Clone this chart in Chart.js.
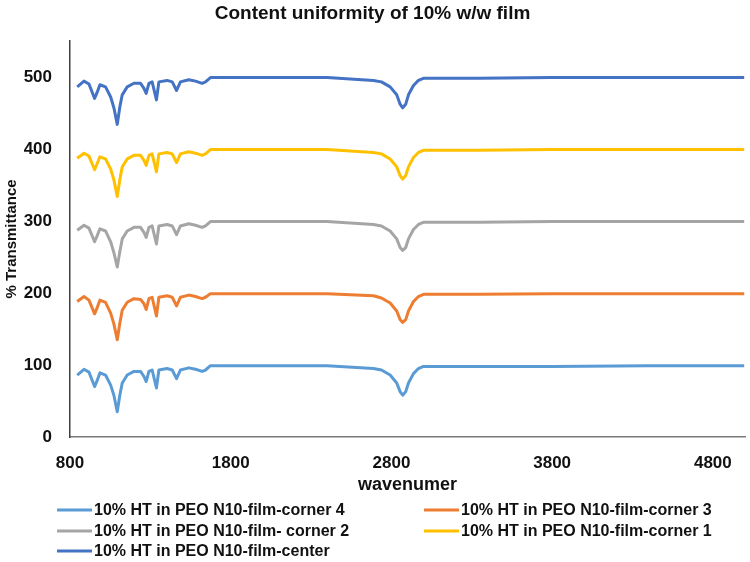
<!DOCTYPE html>
<html>
<head>
<meta charset="utf-8">
<title>Content uniformity of 10% w/w film</title>
<script src="https://cdn.jsdelivr.net/npm/chart.js@4.4.1/dist/chart.umd.min.js"></script>
<style>
    html, body { margin: 0; padding: 0; background: #ffffff; }
    #wrap { width: 750px; height: 562px; }
</style>
</head>
<body>
<div id="wrap"><canvas id="chart1"></canvas></div>
<script>
// ------------------------------------- DATA -------------------------------------
let wavenumbers = [845, 887, 918, 953, 970, 986, 1021, 1053, 1073, 1094, 1110, 1125, 1156, 1198, 1239, 1260,
    1274, 1291, 1311, 1338, 1353, 1404, 1436, 1463, 1487, 1539, 1581, 1622, 1643, 1674, 1757, 2000,
    2400, 2688, 2738, 2792, 2833, 2854, 2870, 2889, 2906, 2937, 2968, 2999, 3340, 3800, 4400, 4995]

let corner4 = [86, 94, 90, 70, 79, 89, 86, 72, 58, 35, 58, 75, 86, 91, 91, 84,
    77, 91, 93, 68, 93, 95, 93, 81, 93, 96, 94, 91, 93, 99, 99, 99,
    99, 95, 93, 86, 75, 63, 58, 63, 75, 88, 95, 98, 98, 98, 99, 99]
let corner3 = [188, 195, 190, 171, 180, 190, 187, 172, 157, 135, 158, 176, 187, 192, 191, 185,
    177, 192, 194, 168, 194, 196, 194, 182, 194, 197, 195, 192, 194, 199, 199, 199,
    199, 196, 193, 186, 175, 163, 159, 163, 175, 188, 195, 198, 198, 199, 199, 199]
let corner2 = [287, 294, 290, 271, 280, 289, 286, 271, 256, 236, 257, 275, 286, 291, 291, 284,
    277, 291, 293, 268, 293, 295, 293, 281, 293, 296, 294, 291, 293, 299, 299, 299,
    299, 295, 293, 286, 275, 263, 259, 263, 275, 288, 295, 298, 298, 299, 299, 299]
let corner1 = [387, 394, 390, 371, 380, 389, 386, 372, 357, 334, 357, 375, 386, 391, 391, 384,
    377, 391, 393, 368, 393, 395, 393, 381, 393, 396, 394, 391, 393, 399, 399, 399,
    399, 395, 393, 386, 375, 363, 358, 363, 375, 388, 395, 398, 398, 399, 399, 399]
let center = [486, 494, 490, 470, 479, 489, 486, 472, 457, 434, 458, 475, 486, 491, 491, 484,
    477, 491, 493, 468, 493, 495, 493, 481, 493, 496, 494, 491, 493, 499, 499, 499,
    499, 495, 493, 486, 475, 462, 457, 462, 475, 488, 495, 498, 498, 499, 499, 499]

let seriesLabels = [
    "10% HT in PEO N10-film-corner 4",
    "10% HT in PEO N10-film-corner 3",
    "10% HT in PEO N10-film- corner 2",
    "10% HT in PEO N10-film-corner 1",
    "10% HT in PEO N10-film-center"
]
let seriesColors = ["#5b9bd5", "#ed7d31", "#a5a5a5", "#ffc000", "#4472c4"]
let xTicks = [800, 1800, 2800, 3800, 4800]
let yTicks = [0, 100, 200, 300, 400, 500]

// ------------------------------------- BUILD DATASETS -------------------------------------
function toPoints(values) {
    return values.map(function(v, i) {
        return { x: wavenumbers[i], y: v }
    })
}

let allSeries = [corner4, corner3, corner2, corner1, center]
let datasets = allSeries.map(function(values, i) {
    return {
        label: seriesLabels[i],
        data: toPoints(values),
        borderColor: seriesColors[i],
        backgroundColor: seriesColors[i],
        borderWidth: 3,
        borderJoinStyle: "round",
        pointRadius: 0,
        tension: 0,
        fill: false
    }
})

let fontFamily = "'Liberation Sans', Arial, sans-serif"

// legend drawn in two columns like the original (left aligned)
let twoColumnLegend = {
    id: "twoColumnLegend",
    afterDraw: function(chart) {
        let ctx = chart.ctx
        let colX = [57, 424]
        let rowY = [510, 531, 551]
        ctx.save()
        ctx.font = "bold 16px " + fontFamily
        ctx.textBaseline = "middle"
        ctx.textAlign = "left"
        chart.data.datasets.forEach(function(ds, i) {
            let x = colX[i % 2]
            let y = rowY[Math.floor(i / 2)]
            ctx.strokeStyle = ds.borderColor
            ctx.lineWidth = 3
            ctx.beginPath()
            ctx.moveTo(x, y)
            ctx.lineTo(x + 35, y)
            ctx.stroke()
            ctx.fillStyle = "#111111"
            ctx.fillText(ds.label, x + 37, y + 1)
        })
        ctx.restore()
    }
}

// ------------------------------------- CHART -------------------------------------
let ctx1 = document.getElementById("chart1").getContext("2d")
let chart1 = new Chart(ctx1, {
    type: "scatter",
    data: { datasets: datasets },
    plugins: [twoColumnLegend],
    options: {
        responsive: true,
        maintainAspectRatio: false,
        animation: false,
        showLine: true,
        layout: { padding: { top: 0, right: 5, bottom: 65, left: 0 } },
        plugins: {
            legend: { display: false },
            tooltip: { enabled: false },
            title: {
                display: true,
                text: "Content uniformity of 10% w/w film",
                color: "#111111",
                font: { family: fontFamily, size: 19, weight: "bold" },
                padding: { top: 2, bottom: 16 }
            }
        },
        scales: {
            x: {
                type: "linear",
                min: 800,
                max: 5000,
                afterBuildTicks: function(scale) {
                    scale.ticks = xTicks.map(function(v) { return { value: v } })
                },
                afterFit: function(scale) { scale.height = 60 },
                grid: { display: false },
                border: { display: true, color: "#7a7a7a", width: 1.5 },
                ticks: {
                    color: "#111111",
                    padding: 8,
                    maxRotation: 0,
                    callback: function(v) { return String(v) },
                    font: { family: fontFamily, size: 17, weight: "bold" }
                },
                title: {
                    display: true,
                    text: "wavenumer",
                    color: "#111111",
                    font: { family: fontFamily, size: 18, weight: "bold" },
                    padding: { top: 0, bottom: 1 }
                }
            },
            y: {
                min: 0,
                max: 550,
                afterBuildTicks: function(scale) {
                    scale.ticks = yTicks.map(function(v) { return { value: v } })
                },
                afterFit: function(scale) { scale.width = 70 },
                grid: { display: false },
                border: { display: true, color: "#404040", width: 1.5 },
                ticks: {
                    color: "#111111",
                    padding: 10,
                    font: { family: fontFamily, size: 17, weight: "bold" }
                },
                title: {
                    display: true,
                    text: "% Transmittance",
                    color: "#111111",
                    font: { family: fontFamily, size: 15, weight: "bold" },
                    padding: { top: 3, bottom: 0 }
                }
            }
        }
    }
})
</script>
</body>
</html>
